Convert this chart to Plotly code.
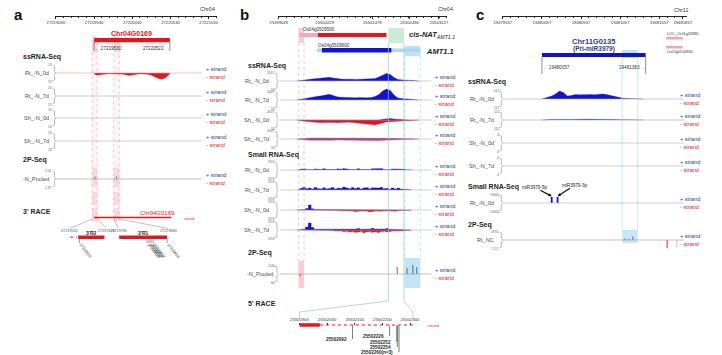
import plotly.graph_objects as go

W, H = 722, 355
FONT = "Liberation Sans, Arial, Helvetica, sans-serif"
RED = "#e3161d"
BLUE = "#1212cf"
NAVY = "#2c3c8c"
INK = "#1e1e1e"
GREY = "#4d4d4d"
TRACK = "#a7adc6"
PINK = "#f2a0b2"
GREEN = "#8fd0aa"
LBLUE = "#9fd6ee"

# ======================= DATA =======================
# ---------- panel a ----------
a_chrom = "Chr04"
a_ticks = [27219030, 27219530, 27220030, 27220530, 27221030]
a_view = [27219030, 27221130]
a_gene_name = "Chr04G0169"
a_gene = [27219530, 27220522]
a_windows = [[27219505, 27219570], [27219785, 27219860]]
a_ss_tracks = ["Rt_-N_0d", "Rt_-N_7d", "Sh_-N_0d", "Sh_-N_7d"]
a_ss_scale = ["13", "13", "13", "13"]
a_cov_start = 27219530
a_cov_step = 40
a_rt0d_minus = [2, 2, 1.5, 1, 0.8, 0.8, 0.8, 0.8, 1, 1.2, 2, 2.5, 2, 1.2, 1, 1, 1, 1.2, 2, 3.5, 5, 6, 6, 4.5, 1.5]
a_2p_track = "-N_Pooled"
a_2p_scale = ["2.05", "1.97"]
a_2p_pos = [27219540, 27219822]
a_2p_val = [2.5, 2.5]
a_r2_view = [27219505, 27219570]
a_r2_bar = [27219520, 27219566]
a_r2_tail = [27219506, 27219518]
a_r2_sites = [27219522]
a_r1_view = [27219785, 27219860]
a_r1_bar = [27219786, 27219858]
a_r1_sites = [27219828, 27219831, 27219834, 27219837, 27219858]

# ---------- panel b ----------
b_chrom = "Chr04"
b_ticks = [25499029, 25500229, 25501479, 25502456, 25503227]
b_view = [25499029, 25503439]
b_g1_name = "Os04g0509500"
b_g1_utr = [25499567, 25500055]
b_g1_cds = [25500055, 25501850]
b_g2_name = "Os04g0509600"
b_g2_utr = [25500030, 25502740]
b_g2_cds = [25500157, 25501978]
b_pink = [25499540, 25499690]
b_green = [25501900, 25502310]
b_blue = [25502330, 25502740]
b_ss_tracks = ["Rt_-N_0d", "Rt_-N_7d", "Sh_-N_0d", "Sh_-N_7d"]
b_sm_tracks = ["Rt_-N_0d", "Rt_-N_7d", "Sh_-N_0d", "Sh_-N_7d"]
b_ss_scale = ["2647", "53"]
b_sm_scale = ["23.8", "23.8"]
b_cov_start = 25499500
b_cov_step = 100
b_ss_rt0d_plus = [0.3, 0.5, 1.0, 1.8, 2.2, 2.5, 2.8, 3.2, 3.8, 3.0, 2.2, 2.0, 1.8, 2.0, 1.8, 1.6,
                  1.8, 1.5, 1.6, 2.0, 2.5, 4.0, 6.0, 7.5, 6.5, 3.5, 1.5, 1.0, 0.8, 0.6, 0.4, 0.2]
b_ss_rt7d_plus = [0.4, 0.8, 1.5, 2.5, 3.2, 3.8, 4.2, 4.8, 5.8, 4.5, 3.2, 2.8, 2.5, 2.6, 2.4, 2.2,
                  2.4, 2.0, 2.2, 2.6, 3.5, 5.5, 9.0, 11.0, 9.5, 5.0, 2.0, 1.4, 1.0, 0.8, 0.5, 0.3]
b_ss_sh0d_minus = [0.5, 1.0, 1.5, 2.0, 2.5, 2.5, 2.8, 2.5, 2.2, 2.5, 2.8, 2.5, 2.0, 2.2, 2.5, 2.8,
                   3.0, 3.5, 4.0, 4.5, 5.0, 4.0, 2.5, 2.0, 1.8, 1.5, 1.2, 1.0, 0.8, 0.6, 0.4, 0.2]
b_ss_sh0d_plus = [0, 0, 0, 0, 0, 0, 0, 0, 0, 0, 0, 0, 0, 0, 0, 0,
                  0, 0, 0, 0, 0, 0, 0.8, 1.2, 1.5, 1.0, 0.6, 0.3, 0, 0, 0, 0]
b_ss_sh7d_minus = [0.3, 0.6, 1.0, 1.2, 1.3, 1.2, 1.0, 1.2, 1.4, 1.2, 1.0, 1.1, 1.2, 1.3, 1.5, 1.4,
                   1.2, 1.3, 1.5, 1.6, 1.8, 1.6, 1.3, 1.2, 1.0, 0.9, 0.7, 0.5, 0.4, 0.3, 0.2, 0.1]
b_ss_sh7d_plus = [0.2, 0.4, 0.8, 1.0, 1.0, 0.9, 0.8, 1.0, 1.1, 1.0, 0.8, 0.9, 1.0, 1.0, 1.2, 1.1,
                  1.0, 1.1, 1.2, 1.3, 1.5, 1.4, 1.2, 1.0, 0.8, 0.7, 0.5, 0.4, 0.3, 0.2, 0.1, 0]
b_sm_start = 25499500
b_sm_step = 75
b_sm_rt0d_plus = [0, 0.8, 1.2, 0.4, 0.9, 0.3, 1.1, 0.6, 0.4, 1.3, 0.5, 0.8, 1.0, 0.4, 1.2, 0.7, 1.5, 0.9, 0.5, 1.1,
                  0.6, 1.3, 0.4, 0.8, 1.0, 0.5, 1.2, 0.7, 0.9, 1.4, 0.6, 0.8, 0.3, 1.1, 0.5, 0.9, 0.4, 0.7, 0.3, 0.2]
b_sm_rt7d_plus = [0, 1.5, 2.8, 1.2, 2.0, 1.0, 2.5, 1.4, 0.9, 2.2, 1.1, 1.8, 2.4, 1.0, 2.0, 1.5, 3.0, 2.1, 1.2, 2.6,
                  1.4, 2.3, 1.0, 1.9, 2.5, 1.2, 2.2, 1.6, 2.0, 2.7, 1.3, 1.8, 0.8, 2.1, 1.1, 1.9, 0.9, 1.2, 0.5, 0.3]
b_sm_sh0d_plus = [0, 0.3, 0.5, 1.5, 5.0, 1.2, 0.4, 0.6, 0.3, 0.5, 0.2, 0.4, 0.3, 0.2, 0.5, 0.3, 0.2, 0.4, 0.3, 0.5,
                  0.2, 0.3, 0.6, 0.4, 0.2, 0.3, 0.5, 0.8, 0.3, 0.6, 0.4, 0.7, 0.3, 0.5, 0.2, 0.4, 0.3, 0.2, 0.1, 0]
b_sm_sh0d_minus = [0, 0, 0, 0, 0, 0, 0, 0, 0, 0, 0, 0, 0.3, 0.5, 0.4, 0.8, 1.2, 0.9, 1.5, 1.1,
                   1.8, 1.3, 1.0, 1.6, 1.2, 1.9, 1.4, 1.0, 1.7, 1.3, 0.8, 1.5, 1.1, 0.9, 1.2, 0.7, 0.5, 0.8, 0.4, 0.2]
b_sm_sh7d_plus = [0, 0.5, 1.0, 3.0, 7.0, 2.5, 0.8, 0.6, 0.4, 0.9, 0.5, 0.3, 0.6, 0.4, 0.3, 0.7, 0.5, 0.4, 0.8, 0.6,
                  0.9, 1.5, 0.7, 1.2, 0.8, 1.0, 1.8, 0.9, 1.3, 0.7, 1.1, 1.6, 0.8, 0.6, 1.0, 0.5, 0.4, 0.3, 0.2, 0]
b_sm_sh7d_minus = [0, 0, 0, 0, 0, 0, 0, 0, 0, 0, 0.4, 0.6, 0.5, 0.9, 1.4, 1.0, 1.8, 1.3, 2.2, 1.6,
                   2.5, 1.9, 1.4, 2.8, 2.0, 1.5, 2.4, 1.8, 2.6, 1.7, 1.2, 2.0, 1.5, 1.0, 1.3, 0.8, 0.6, 0.9, 0.4, 0.2]
b_2p_track = "-N_Pooled"
b_2p_scale = ["1160", "60"]
b_2p_plus_pos = [25502132, 25502388, 25502542, 25502644]
b_2p_plus_val = [7, 6, 9, 7]
b_2p_minus_pos = [25499585]
b_2p_minus_val = [2.5]
b_race5_view = [25501900, 25502310]
b_race5_ticks = [25501900, 25502000, 25502100, 25502200, 25502300]
b_race5_bar = [25501900, 25501974]
b_race5_sites = [25502092, 25502226, 25502252, 25502254, 25502260]
b_race5_labels = ["25502092", "25502226", "25502252", "25502254", "25502260(n=3)"]

# ---------- panel c ----------
c_chrom = "Chr11"
c_ticks = [19479557, 19480057, 19480557, 19481057, 19481557, 19481857]
c_view = [19479557, 19481907]
c_gene_name = "Chr11G0135"
c_gene_alias = "(Pri-miR3979)"
c_gene = [19480057, 19481383]
c_box = [19481082, 19481282]
c_legend = ["LOC_Os11g32880", "Os11g0524300"]
c_ss_tracks = ["Rt_-N_0d", "Rt_-N_7d", "Sh_-N_0d", "Sh_-N_7d"]
c_ss_scale = [["112", "112"], ["112", "112"], ["4", "4"], ["4", "4"]]
c_cov_start = 19480057
c_cov_step = 50
c_ss_rt0d_plus = [0.5, 1.5, 3.0, 5.0, 8.0, 6.5, 3.0, 3.5, 4.5, 4.2, 4.5, 4.3, 4.5,
                  4.2, 4.8, 5.0, 4.5, 3.5, 2.5, 1.5, 1.0, 0.6, 0.4, 0.3, 0.3, 0.2]
c_ss_rt7d_plus = [0.2, 0.3, 0.5, 0.6, 0.8, 0.7, 0.5, 0.6, 0.8, 0.7, 0.7, 0.8, 0.7,
                  0.6, 0.7, 0.8, 0.6, 0.5, 0.4, 0.3, 0.2, 0.2, 0.1, 0.1, 0.1, 0.1]
c_sm_track = "Rt_-N_0d"
c_sm_scale = ["13400", "13400"]
c_mir_names = ["miR3979-5p", "miR3979-3p"]
c_mir_pos = [19480182, 19480257]
c_mir_val = [6, 6]
c_2p_track = "Rt_NC"
c_2p_scale = ["1955", "2.12"]
c_2p_plus_pos = [19481119, 19481169, 19481219]
c_2p_plus_val = [1.5, 1.0, 3.5]
c_2p_minus_pos = [19481657, 19481782]
c_2p_minus_val = [8, 7]

# ======================= LAYOUT GEOMETRY =======================
AX = {
    'x':  dict(px=[48, 212], rng=a_view),
    'x2': dict(px=[276, 448], rng=b_view),
    'x3': dict(px=[505, 693], rng=c_view),
    'x4': dict(px=[297, 413], rng=b_race5_view),
    'x5': dict(px=[62, 100], rng=a_r2_view),
    'x6': dict(px=[112, 163], rng=a_r1_view),
}


def gx(ax, g):
    p0, p1 = AX[ax]['px']
    r0, r1 = AX[ax]['rng']
    return p0 + (g - r0) * (p1 - p0) / (r1 - r0)


def P(x):
    return x / W


traces, shapes, annos = [], [], []


def line(x0, y0, x1, y1, color, width=0.7, dash='solid', xref='paper', layer='above'):
    if xref == 'paper':
        x0, x1 = P(x0), P(x1)
    shapes.append(dict(type='line', xref=xref, yref='y', x0=x0, x1=x1, y0=y0, y1=y1,
                       line=dict(color=color, width=width, dash=dash), layer=layer))


def rect(x0, x1, y0, y1, fill, lc='rgba(0,0,0,0)', lw=0, xref='paper', dash='solid', layer='below'):
    if xref == 'paper':
        x0, x1 = P(x0), P(x1)
    shapes.append(dict(type='rect', xref=xref, yref='y', x0=x0, x1=x1, y0=y0, y1=y1,
                       fillcolor=fill, line=dict(color=lc, width=lw, dash=dash), layer=layer))


def path(pts, color, width=0.7, dash='solid'):
    d = "M " + " L ".join(f"{P(x)},{y}" for x, y in pts)
    shapes.append(dict(type='path', xref='paper', yref='y', path=d,
                       line=dict(color=color, width=width, dash=dash), layer='above'))


def text(x, y, s, size=5, color=GREY, xa='left', ya='middle', xref='paper', bold=False,
         italic=False, angle=0):
    if xref == 'paper':
        x = P(x)
    if italic:
        s = f"<i>{s}</i>"
    if bold:
        s = f"<b>{s}</b>"
    annos.append(dict(x=x, y=y, xref=xref, yref='y', text=s, showarrow=False, xanchor=xa,
                      yanchor=ya, textangle=angle, borderpad=0,
                      font=dict(size=size, color=color, family=FONT)))


def cov(ax, start, step, vals, base, sign, color, steps=False, lw=0.3):
    xs, ys = [start], [base]
    for i, v in enumerate(vals):
        if steps:
            xs += [start + i * step, start + (i + 1) * step]
            ys += [base - sign * v, base - sign * v]
        else:
            xs.append(start + (i + 0.5) * step)
            ys.append(base - sign * v)
    xs.append(start + len(vals) * step)
    ys.append(base)
    traces.append(go.Scatter(x=xs, y=ys, xaxis=ax, yaxis='y', mode='lines', fill='toself',
                             fillcolor=color, line=dict(color=color, width=lw),
                             hoverinfo='skip', showlegend=False))


def spikes(ax, pos, vals, base, sign, color, width=1.0):
    xs, ys = [], []
    for p, v in zip(pos, vals):
        xs += [p, p, None]
        ys += [base, base - sign * v, None]
    traces.append(go.Scatter(x=xs, y=ys, xaxis=ax, yaxis='y', mode='lines',
                             line=dict(color=color, width=width), hoverinfo='skip',
                             showlegend=False))


def track(label, base, x0, x1, lab_r, br_x, scale, plus_x, lcolor=TRACK):
    line(x0, base, x1, base, lcolor, 0.6)
    text(lab_r, base, label, 5.6, GREY, 'right')
    path([(br_x - 2, base - 8), (br_x, base - 7), (br_x, base - 1.5), (br_x + 1.5, base),
          (br_x, base + 1.5), (br_x, base + 7), (br_x - 2, base + 8)], '#777', 0.5)
    text(br_x - 1, base - 8.5, scale[0], 3.3, '#666', 'right')
    text(br_x - 1, base + 8.5, scale[1], 3.3, '#666', 'right')
    text(plus_x, base - 3.6, "+ strand", 5.6, NAVY, 'left')
    text(plus_x, base + 3.8, "- strand", 5.6, RED, 'left')


def section(x, y, s):
    text(x, y, s, 7, INK, 'left', bold=True)


# ======================= PANEL A =======================
text(10, 14, "a", 15, "#111", 'center', bold=True)
text(203, 9, a_chrom, 5.5, '#333', 'center')
text(gx('x', sum(a_gene) / 2), 33, a_gene_name, 7, RED, 'center', bold=True)
rect(a_gene[0], a_gene[1], 38, 42.2, RED, xref='x', layer='above')
line(a_gene[0], 42, a_gene[0], 51, '#444', 0.6, xref='x')
line(a_gene[1], 42, a_gene[1], 51, '#444', 0.6, xref='x')
text(a_gene[0], 48, "\u2190 " + str(a_gene[0]), 4.6, '#333', 'left', xref='x')
text(a_gene[1], 48, str(a_gene[1]) + " \u2192", 4.6, '#333', 'right', xref='x')

for w0, w1 in a_windows:
    rect(w0, w1, 37, 221, 'rgba(245,170,185,0.13)', PINK, 0.6, xref='x', dash='dot')
    for y0, y1 in [(37, 52), (168, 187), (192, 205), (208, 221)]:
        rect(w0, w1, y0, y1, 'rgba(245,160,178,0.35)', xref='x')

section(13, 57, "ssRNA-Seq")
a_ss_y = [73, 96, 118, 141]
for i, (name, y) in enumerate(zip(a_ss_tracks, a_ss_y)):
    track(name, y, 48, 197, 42, 46.5, [a_ss_scale[i], a_ss_scale[i]], 200,
          '#e99' if i == 0 else TRACK)
cov('x', a_cov_start, a_cov_step, a_rt0d_minus, a_ss_y[0], -1, RED)

section(13, 160, "2P-Seq")
track(a_2p_track, 179, 48, 197, 42, 46.5, a_2p_scale, 200, '#999')
spikes('x', a_2p_pos, a_2p_val, 179, 1, '#555', 0.8)

section(13, 211, "3' RACE")
line(a_gene[0], 217.5, a_gene[1] + 20, 217.5, RED, 1.4, xref='x')
text(152, 213, a_gene_name, 6, RED, 'center')
text(176, 218.5, "- strand", 3.6, RED, 'left')
for (w0, w1), axk in zip(a_windows, ['x5', 'x6']):
    line(gx('x', w0), 219, gx(axk, w0), 228.5, '#999', 0.6)
    line(gx('x', w1), 219, gx(axk, w1), 228.5, '#999', 0.6)
    text(gx(axk, w0), 231.3, str(w0), 3.8, '#555', 'center')
    text(gx(axk, w1), 231.3, str(w1), 3.8, '#555', 'center')
rect(a_r2_bar[0], a_r2_bar[1], 235.5, 239, RED, xref='x5', layer='above')
line(a_r2_tail[0], 237.2, a_r2_tail[1], 237.2, RED, 1.0, 'dot', xref='x5')
rect(a_r1_bar[0], a_r1_bar[1], 235.5, 239, RED, xref='x6', layer='above')
text(gx('x5', sum(a_r2_bar) / 2), 232.5, "3'R2", 5, INK, 'center', bold=True)
text(gx('x6', sum(a_r1_bar) / 2), 232.5, "3'R1", 5, INK, 'center', bold=True)
for axk, sites in [('x5', a_r2_sites), ('x6', a_r1_sites)]:
    for k, s in enumerate(sites):
        x = gx(axk, s)
        line(x, 239, x, 243, '#333', 0.5)
        text(x - 2, 241.5, str(s), 3.8, '#333', 'left', 'top', angle=52)

# ======================= PANEL B =======================
text(241, 14, "b", 15, "#111", 'center', bold=True)
text(446, 9, b_chrom, 5.5, '#333', 'center')
rect(b_pink[0], b_pink[1], 28, 43, 'rgba(245,160,178,0.55)', xref='x2')
rect(b_green[0], b_green[1], 28, 43, 'rgba(170,220,190,0.6)', xref='x2')
rect(b_blue[0], b_blue[1], 46, 56, 'rgba(160,215,240,0.7)', xref='x2')
rect(b_g1_utr[0], b_g1_utr[1], 33, 37, '#f5a8b4', xref='x2', layer='above')
rect(b_g1_cds[0], b_g1_cds[1], 33, 37, RED, xref='x2', layer='above')
text(gx('x2', b_g1_utr[0]) + 3, 29.5, b_g1_name, 4.6, '#333', 'left')
text(408, 34.5, "<b><i>cis-NAT</i></b><sub><i>AMT1.1</i></sub>", 7.5, INK, 'left')
rect(b_g2_utr[0], b_g2_utr[1], 48.5, 52, '#aad8f0', xref='x2', layer='above')
rect(b_g2_cds[0], b_g2_cds[1], 48, 52.5, BLUE, xref='x2', layer='above')
text(gx('x2', b_g2_utr[0]), 45.5, b_g2_name, 4.6, '#333', 'left')
text(425, 51, "AMT1.1", 7.5, INK, 'left', bold=True, italic=True)

for e in b_pink:
    line(e, 43, e, 261, PINK, 0.6, 'dot', xref='x2')
rect(b_pink[0], b_pink[1], 261, 288, 'rgba(245,160,178,0.55)', xref='x2')
for e in b_blue:
    line(e, 56, e, 258, LBLUE, 0.6, 'dot', xref='x2')
rect(b_blue[0], b_blue[1], 258, 288, 'rgba(160,215,240,0.65)', xref='x2')
gl, gr = gx('x2', b_green[0]), gx('x2', b_green[1])
rl, rr = gx('x4', b_race5_view[0]), gx('x4', b_race5_view[1])
path([(gl, 43), (gl, 301), (rl, 312), (rl, 319)], GREEN, 0.7)
path([(gr, 43), (gr, 301), (rr, 312), (rr, 319)], GREEN, 0.7)

section(243, 66, "ssRNA-Seq")
b_ss_y = [81, 100, 120, 139]
for name, y in zip(b_ss_tracks, b_ss_y):
    track(name, y, 277, 432, 267, 274, b_ss_scale, 435)
cov('x2', b_cov_start, b_cov_step, b_ss_rt0d_plus, b_ss_y[0], 1, BLUE)
cov('x2', b_cov_start, b_cov_step, b_ss_rt7d_plus, b_ss_y[1], 1, BLUE)
cov('x2', b_cov_start, b_cov_step, b_ss_sh0d_minus, b_ss_y[2], -1, RED)
cov('x2', b_cov_start, b_cov_step, b_ss_sh0d_plus, b_ss_y[2], 1, BLUE)
cov('x2', b_cov_start, b_cov_step, b_ss_sh7d_minus, b_ss_y[3], -1, RED)
cov('x2', b_cov_start, b_cov_step, b_ss_sh7d_plus, b_ss_y[3], 1, 'rgba(40,40,200,0.85)')

section(243, 155, "Small RNA-Seq")
b_sm_y = [170, 190, 210, 230]
for name, y in zip(b_sm_tracks, b_sm_y):
    track(name, y, 277, 432, 267, 274, b_sm_scale, 435)
cov('x2', b_sm_start, b_sm_step, b_sm_rt0d_plus, b_sm_y[0], 1, BLUE, steps=True)
cov('x2', b_sm_start, b_sm_step, b_sm_rt7d_plus, b_sm_y[1], 1, BLUE, steps=True)
cov('x2', b_sm_start, b_sm_step, b_sm_sh0d_minus, b_sm_y[2], -1, RED, steps=True)
cov('x2', b_sm_start, b_sm_step, b_sm_sh0d_plus, b_sm_y[2], 1, BLUE, steps=True)
cov('x2', b_sm_start, b_sm_step, b_sm_sh7d_minus, b_sm_y[3], -1, RED, steps=True)
cov('x2', b_sm_start, b_sm_step, b_sm_sh7d_plus, b_sm_y[3], 1, BLUE, steps=True)

section(243, 253, "2P-Seq")
track(b_2p_track, 274, 277, 432, 271, 274, b_2p_scale, 435, '#999')
spikes('x2', b_2p_plus_pos, b_2p_plus_val, 274, 1, '#3a4a8a', 0.8)
spikes('x2', b_2p_minus_pos, b_2p_minus_val, 274, -1, RED, 0.8)

section(243, 303, "5' RACE")
rect(b_race5_bar[0], b_race5_bar[1], 323.3, 326.7, RED, xref='x4', layer='above')
line(b_race5_bar[1], 325, b_race5_view[1], 325, RED, 1.0, 'dot', xref='x4')
text(425, 326, "- strand", 3.8, RED, 'left')
text(b_race5_bar[1], 331, str(b_race5_bar[1]), 4.6, INK, 'center', bold=True)
race_y = [339, 336, 342, 347, 352]
for s, lab, y in zip(b_race5_sites, b_race5_labels, race_y):
    line(s, 325.5, s, y, '#222', 0.6, xref='x4')
    text(s, y, lab + " \u2192", 4.6, INK, 'right', xref='x4', bold=True)

# ======================= PANEL C =======================
text(482, 14, "c", 15, "#111", 'center', bold=True)
text(688, 10, c_chrom, 5.5, '#333', 'center')
text(gx('x3', sum(c_gene) / 2), 41, c_gene_name, 7.5, NAVY, 'center', bold=True)
text(gx('x3', sum(c_gene) / 2), 49, c_gene_alias, 6.5, NAVY, 'center', bold=True)
rect(c_box[0], c_box[1], 50, 58, 'rgba(160,215,240,0.7)', xref='x3')
rect(c_gene[0], c_gene[1], 53, 57, BLUE, xref='x3', layer='above')
line(c_gene[0], 57, c_gene[0], 74, '#444', 0.6, xref='x3')
line(c_gene[1], 57, c_gene[1], 74, '#444', 0.6, xref='x3')
text(c_gene[0], 67, "\u2190 " + str(c_gene[0]), 4.6, '#333', 'left', xref='x3')
text(c_gene[1], 67, str(c_gene[1]) + " \u2192", 4.6, '#333', 'right', xref='x3')
text(672, 33.5, c_legend[0], 3.8, '#333', 'left')
rect(672, 689, 37, 39.5, '#f5a3b5', layer='above')
rect(672, 689, 46, 48.5, '#f5a3b5', layer='above')
text(672, 52, c_legend[1], 3.8, '#333', 'left')
for e in c_box:
    line(e, 58, e, 230, '#aee3f3', 0.7, xref='x3')
rect(c_box[0], c_box[1], 230, 243, 'rgba(160,215,240,0.6)', xref='x3')

section(468, 82, "ssRNA-Seq")
c_ss_y = [99, 120, 143, 166]
for name, y, sc in zip(c_ss_tracks, c_ss_y, c_ss_scale):
    track(name, y, 505, 690, 497, 503.5, sc, 685)
cov('x3', c_cov_start, c_cov_step, c_ss_rt0d_plus, c_ss_y[0], 1, BLUE)
cov('x3', c_cov_start, c_cov_step, c_ss_rt7d_plus, c_ss_y[1], 1, BLUE)

section(468, 187, "Small RNA-Seq")
track(c_sm_track, 203, 505, 690, 497, 503.5, c_sm_scale, 685)
spikes('x3', c_mir_pos, c_mir_val, 203, 1, BLUE, 1.8)
for name, p, v, dx, dy in zip(c_mir_names, c_mir_pos, c_mir_val, [-17, 17], [-9, -11]):
    annos.append(dict(x=p, y=203 - v - 0.8, xref='x3', yref='y', text=name, showarrow=True,
                      ax=dx, ay=dy, arrowhead=2, arrowsize=0.5, arrowwidth=1.3,
                      arrowcolor='#111', standoff=0, borderpad=0,
                      font=dict(size=4.6, color='#222', family=FONT)))

section(468, 225, "2P-Seq")
track(c_2p_track, 240, 505, 690, 497, 503.5, c_2p_scale, 685, '#999')
spikes('x3', c_2p_plus_pos, c_2p_plus_val, 240, 1, '#3a4a9a', 0.8)
spikes('x3', c_2p_minus_pos[:1], c_2p_minus_val[:1], 240, -1, RED, 1.0)
spikes('x3', c_2p_minus_pos[1:], c_2p_minus_val[1:], 240, -1, '#f3a5b0', 1.0)

# ======================= AXES =======================


def scale_axis(key, ticks, minor_dtick):
    p0, p1 = AX[key]['px']
    return dict(domain=[P(p0), P(p1)], range=AX[key]['rng'], anchor='free', position=1 - 15.5 / H,
                showline=True, linecolor='#222', linewidth=0.8, ticks='outside', ticklen=2.5,
                tickwidth=0.7, tickcolor='#222', tickmode='array', tickvals=ticks,
                ticktext=[str(t) for t in ticks],
                tickfont=dict(size=4.2, color='#333', family=FONT), showgrid=False,
                zeroline=False, fixedrange=True,
                minor=dict(ticks='outside', ticklen=1.5, tickwidth=0.5, tickcolor='#222',
                           dtick=minor_dtick, tick0=AX[key]['rng'][0], showgrid=False))


def hidden_axis(key):
    p0, p1 = AX[key]['px']
    return dict(domain=[P(p0), P(p1)], range=AX[key]['rng'], anchor='free', position=0,
                visible=False, fixedrange=True)


race_ax = dict(domain=[P(AX['x4']['px'][0]), P(AX['x4']['px'][1])], range=AX['x4']['rng'],
               anchor='free', position=1 - 325 / H, side='top', showline=False,
               ticks='outside', ticklen=2, tickwidth=0.6, tickcolor='#333', tickmode='array',
               tickvals=b_race5_ticks, ticktext=[str(t) for t in b_race5_ticks],
               tickfont=dict(size=4.2, color='#333', family=FONT), showgrid=False,
               zeroline=False, fixedrange=True)

fig = go.Figure(traces)
fig.update_layout(
    width=W, height=H, autosize=False,
    margin=dict(l=0, r=0, t=0, b=0, pad=0),
    paper_bgcolor='white', plot_bgcolor='rgba(0,0,0,0)',
    showlegend=False,
    xaxis=scale_axis('x', a_ticks, 100),
    xaxis2=scale_axis('x2', b_ticks, 200),
    xaxis3=scale_axis('x3', c_ticks, 100),
    xaxis4=race_ax,
    xaxis5=hidden_axis('x5'),
    xaxis6=hidden_axis('x6'),
    yaxis=dict(range=[H, 0], domain=[0, 1], visible=False, fixedrange=True),
    shapes=shapes, annotations=annos,
    font=dict(family=FONT),
)
fig.write_html("out.html")
